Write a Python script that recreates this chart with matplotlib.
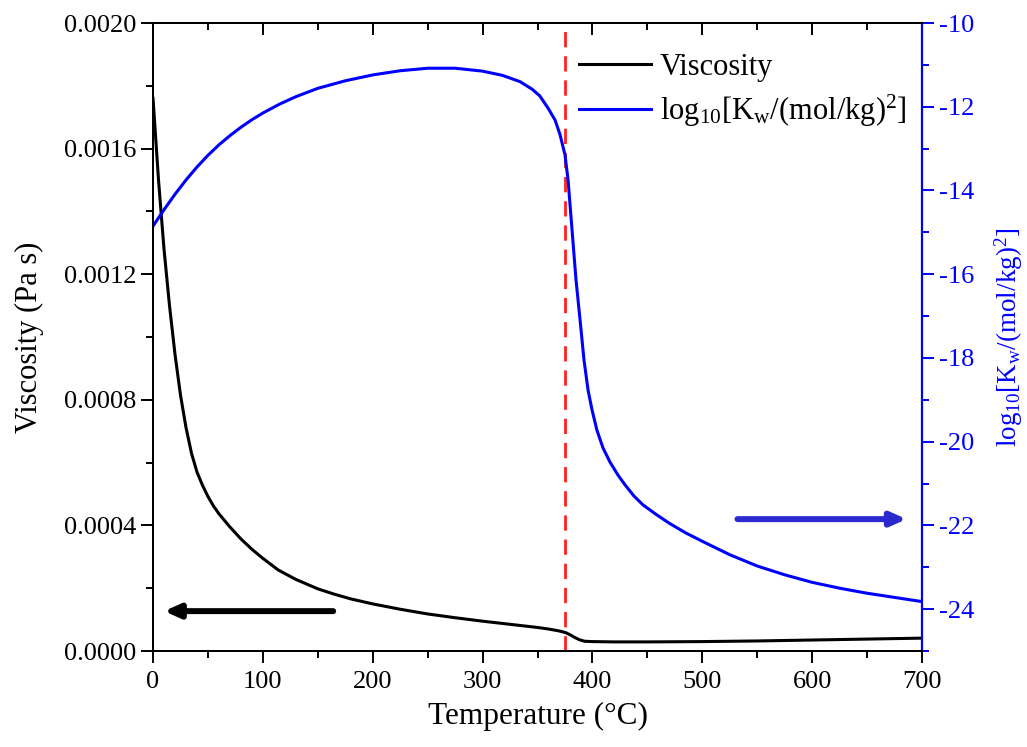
import matplotlib
matplotlib.use("Agg")
import matplotlib.pyplot as plt
from matplotlib.ticker import MultipleLocator, FormatStrFormatter

plt.rcParams['font.family'] = ['Liberation Serif', 'DejaVu Serif']
plt.rcParams['mathtext.fontset'] = 'custom'
plt.rcParams['mathtext.rm'] = 'Liberation Serif'
plt.rcParams['mathtext.it'] = 'Liberation Serif:italic'
plt.rcParams['axes.unicode_minus'] = False

# Viscosity (Pa s) vs temperature (°C)
visc_T = [0, 5, 10, 15, 20, 25, 30, 35, 40, 45, 50, 55, 60, 70, 80, 90, 100, 114,
          130, 150, 165, 180, 200, 225, 250, 275, 300, 325, 350, 360, 368, 372, 376,
          380, 384, 388, 393, 400, 420, 450, 500, 550, 600, 650, 700]
visc = [0.00176, 0.00150, 0.00128, 0.00110, 0.000945, 0.000815, 0.000712, 0.000630,
        0.000570, 0.000528, 0.000492, 0.000462, 0.000437, 0.000395, 0.000357,
        0.000324, 0.000295, 0.000258, 0.000228, 0.000198, 0.000181, 0.000166,
        0.000150, 0.000133, 0.000118, 0.000106, 0.000095, 0.000085, 0.000075,
        0.000070, 0.000065, 0.000062, 0.000058, 0.000051, 0.000043, 0.000036,
        0.000031, 0.000030, 0.000029, 0.000029, 0.000030, 0.000032, 0.000035,
        0.000038, 0.000041]

# log10 Kw vs temperature (°C)
kw_T = [0, 10, 20, 30, 40, 50, 60, 70, 80, 90, 100, 115, 130, 150, 175, 200, 225,
        250, 275, 300, 318, 334, 345, 352, 359.5, 366, 370.5, 375, 377.8, 381.4,
        385, 388.7, 392.3, 396, 399.6, 404, 409.6, 416, 423.3, 429.6, 437.8, 446,
        457, 470, 485, 500, 525, 550, 575, 600, 625, 650, 675, 700]
logkw = [-14.85, -14.46, -14.09, -13.75, -13.44, -13.16, -12.91, -12.69, -12.49,
         -12.31, -12.15, -11.94, -11.76, -11.56, -11.38, -11.24, -11.14, -11.08,
         -11.08, -11.15, -11.25, -11.40, -11.58, -11.74, -12.03, -12.32, -12.67,
         -13.15, -13.75, -14.94, -16.13, -17.09, -18.05, -18.77, -19.24, -19.72,
         -20.15, -20.49, -20.80, -21.03, -21.30, -21.51, -21.72, -21.95, -22.18,
         -22.38, -22.70, -22.97, -23.18, -23.36, -23.50, -23.62, -23.72, -23.82]

T_crit = 375

fig = plt.figure(figsize=(10.27, 7.47), dpi=100)
ax = fig.add_axes([0.149, 0.1285, 0.7488, 0.8407])
ax2 = ax.twinx()

ax.plot(visc_T, visc, color='black', lw=2.2, label='Viscosity', zorder=3)
ax2.plot(kw_T, logkw, color='#0000ff', lw=2.2,
         label=r'log$_{\mathrm{10}}$[K$_{\mathrm{w}}$/(mol/kg)$^{\mathrm{2}}$]')
ax.axvline(T_crit, color='#ff2020', lw=2.0, ls=(0, (5.5, 3.2)), zorder=2)

ax.set_xlim(0, 700)
ax.set_ylim(0, 0.0020)
ax2.set_ylim(-25, -10)

ax.xaxis.set_major_locator(MultipleLocator(100))
ax.xaxis.set_minor_locator(MultipleLocator(50))
ax.yaxis.set_major_locator(MultipleLocator(0.0004))
ax.yaxis.set_minor_locator(MultipleLocator(0.0002))
ax.yaxis.set_major_formatter(FormatStrFormatter('%.4f'))
ax2.yaxis.set_major_locator(MultipleLocator(2))
ax2.yaxis.set_minor_locator(MultipleLocator(1))

ax.tick_params(axis='both', which='both', direction='out', labelsize=19, width=1.4,
               top=False, right=False)
ax.tick_params(which='major', length=8.5)
ax.tick_params(which='minor', length=5)
ax.tick_params(axis='x', which='major', pad=6)

secx = ax.secondary_xaxis('top')
secx.xaxis.set_major_locator(MultipleLocator(100))
secx.xaxis.set_minor_locator(MultipleLocator(50))
secx.tick_params(axis='x', which='both', direction='in', labeltop=False, width=1.4)
secx.tick_params(which='major', length=8.5)
secx.tick_params(which='minor', length=5)
secx.spines['top'].set_linewidth(1.4)

ax2.tick_params(axis='y', which='both', direction='out', colors='#0000ff',
                labelsize=19, width=1.4)
ax2.tick_params(which='major', length=8.5)
ax2.tick_params(which='minor', length=5)

for s in ['left', 'bottom', 'top']:
    ax.spines[s].set_linewidth(1.4)
    ax2.spines[s].set_linewidth(1.4)
ax2.spines['right'].set_color('#0000ff')
ax2.spines['right'].set_linewidth(1.6)
ax.spines['right'].set_visible(False)

ax.set_xlabel('Temperature (°C)', fontsize=22.5, labelpad=6)
ax.set_ylabel('Viscosity (Pa s)', fontsize=22, labelpad=14)
ax2.set_ylabel(r'log$_{\mathrm{10}}$[K$_{\mathrm{w}}$/(mol/kg)$^{\mathrm{2}}$]',
               fontsize=19.5, color='#0000ff', labelpad=13)

# arrows
ax.annotate('', xy=(10, 0.000127), xytext=(164, 0.000127),
            arrowprops=dict(arrowstyle='-|>,head_length=0.9,head_width=0.4',
                            color='black', lw=4.3, shrinkA=0, shrinkB=0))
ax2.annotate('', xy=(686, -21.85), xytext=(532, -21.85),
             arrowprops=dict(arrowstyle='-|>,head_length=0.9,head_width=0.4',
                             color='#2a2ad0', lw=4.3, shrinkA=0, shrinkB=0))

h1, l1 = ax.get_legend_handles_labels()
h2, l2 = ax2.get_legend_handles_labels()
ax2.legend(h1 + h2, l1 + l2, loc='upper right', bbox_to_anchor=(0.98, 0.952),
           frameon=False, fontsize=22, handlelength=2.35, handletextpad=0.3,
           labelspacing=0.35, borderpad=0, borderaxespad=0)

fig.savefig('out.png', dpi=100)
